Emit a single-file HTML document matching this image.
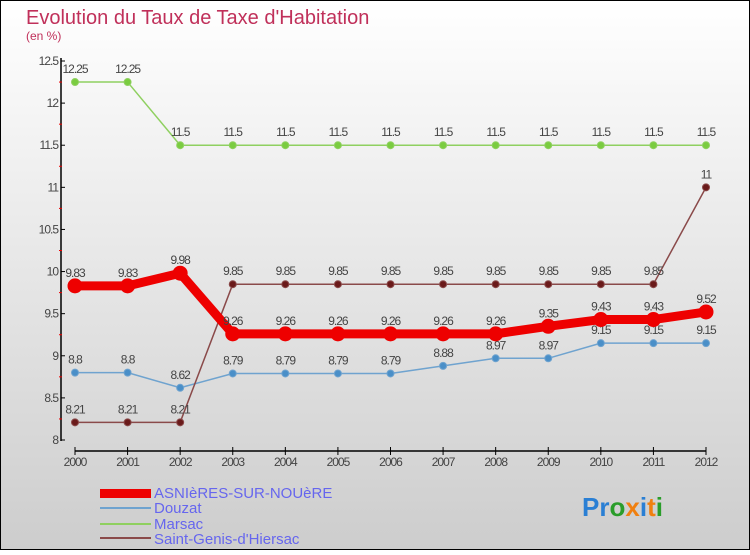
<!DOCTYPE html>
<html><head><meta charset="utf-8"><style>
body{margin:0}
svg text{font-family:"Liberation Sans",sans-serif}
</style></head><body>
<svg id="c" width="750" height="550" xmlns="http://www.w3.org/2000/svg">
<defs><linearGradient id="bg" x1="0" y1="0" x2="0" y2="1"><stop offset="0" stop-color="#ffffff"/><stop offset="1" stop-color="#cdcdcd"/></linearGradient></defs>
<rect x="0.5" y="0.5" width="749" height="549" fill="url(#bg)" stroke="#000"/>
<text x="26" y="24" font-size="20" fill="#c0305a">Evolution du Taux de Taxe d'Habitation</text>
<text x="26" y="40" font-size="12" fill="#c0305a">(en %)</text>
<g id="axes"></g><g id="series"></g>
<g>
<rect x="100" y="489" width="51" height="9" fill="#e00"/>
<text x="154" y="498" font-size="15" fill="#6666ee">ASNIèRES-SUR-NOUèRE</text>
<line x1="100" y1="508" x2="151" y2="508" stroke="#6fa3cf" stroke-width="2"/>
<text x="154" y="513" font-size="15" fill="#6666ee">Douzat</text>
<line x1="100" y1="524" x2="151" y2="524" stroke="#8fd060" stroke-width="2"/>
<text x="154" y="529" font-size="15" fill="#6666ee">Marsac</text>
<line x1="100" y1="538" x2="151" y2="538" stroke="#8a4a4a" stroke-width="2"/>
<text x="154" y="544" font-size="15" fill="#6666ee">Saint-Genis-d'Hiersac</text>
</g>
<text x="582" y="516" font-size="26" font-weight="bold"><tspan fill="#2a7fd4">Pr</tspan><tspan fill="#2a9d2a">o</tspan><tspan fill="#f08010">x</tspan><tspan fill="#2a7fd4">i</tspan><tspan fill="#f08010">t</tspan><tspan fill="#2a9d2a">i</tspan></text>
</svg>
<script>
const years=[2000,2001,2002,2003,2004,2005,2006,2007,2008,2009,2010,2011,2012];
const yTicks=[8,8.5,9,9.5,10,10.5,11,11.5,12,12.5];
const asnieres=[9.83,9.83,9.98,9.26,9.26,9.26,9.26,9.26,9.26,9.35,9.43,9.43,9.52];
const douzat=[8.8,8.8,8.62,8.79,8.79,8.79,8.79,8.88,8.97,8.97,9.15,9.15,9.15];
const marsac=[12.25,12.25,11.5,11.5,11.5,11.5,11.5,11.5,11.5,11.5,11.5,11.5,11.5];
const stgenis=[8.21,8.21,8.21,9.85,9.85,9.85,9.85,9.85,9.85,9.85,9.85,9.85,11];
const NS="http://www.w3.org/2000/svg";
function X(i){return 75+i*(706-75)/(years.length-1);}
function Y(v){return 440-(v-8)*(440-61)/4.5;}
function mk(t,a,p){const e=document.createElementNS(NS,t);for(const k in a)e.setAttribute(k,a[k]);(p||document.getElementById('series')).appendChild(e);return e;}
const ax=document.getElementById('axes');
let l=mk('line',{x1:61,y1:58,x2:61,y2:441,stroke:'#000','stroke-width':1.5},ax);


l=mk('line',{x1:75,y1:451,x2:706,y2:451,stroke:'#000','stroke-width':1.5},ax);


yTicks.forEach((v,i)=>{
  mk('line',{x1:61,y1:Y(v),x2:65,y2:Y(v),stroke:'#000'},ax);
  if(i<yTicks.length-1)mk('line',{x1:59,y1:Y(v+0.25),x2:62,y2:Y(v+0.25),stroke:'#e00'},ax);
  const t=mk('text',{x:58,y:Y(v)+4,'font-size':12,fill:'#444','text-anchor':'end','letter-spacing':'-1'},ax);
  t.textContent=String(v);
  
  
});
years.forEach((y,i)=>{
  mk('line',{x1:X(i),y1:447,x2:X(i),y2:455,stroke:'#000'},ax);
  const t=mk('text',{x:X(i),y:466,'font-size':12,fill:'#444','text-anchor':'middle','letter-spacing':'-1'},ax);
  t.textContent=String(y);
  
  
});
function series(vals,color,w,r,name,lab){
  const g=mk('g',{});
  
  
  mk('polyline',{points:vals.map((v,i)=>X(i)+','+Y(v)).join(' '),fill:'none',stroke:color,'stroke-width':w,'stroke-linejoin':'round'},g);
  vals.forEach((v,i)=>{
    const c=mk('circle',{cx:X(i),cy:Y(v),r:r,fill:lab,stroke:color,'stroke-width':1},g);
    
    
    const t=mk('text',{x:X(i),y:Y(v)-9,'font-size':12,fill:'#444','text-anchor':'middle','letter-spacing':'-1'},g);
    t.textContent=String(v);
    
    
  });
}
series(douzat,'#6fa3cf',1.5,3.5,'series-douzat','#4a8fc8');
series(marsac,'#8fd060',1.5,3.5,'series-marsac','#7acc40');
series(stgenis,'#8a4a4a',1.5,3.5,'series-saint-genis','#6a1a1a');
series(asnieres,'#ee0000',9,7,'series-asnieres','#ee0000');
</script>
</body></html>
